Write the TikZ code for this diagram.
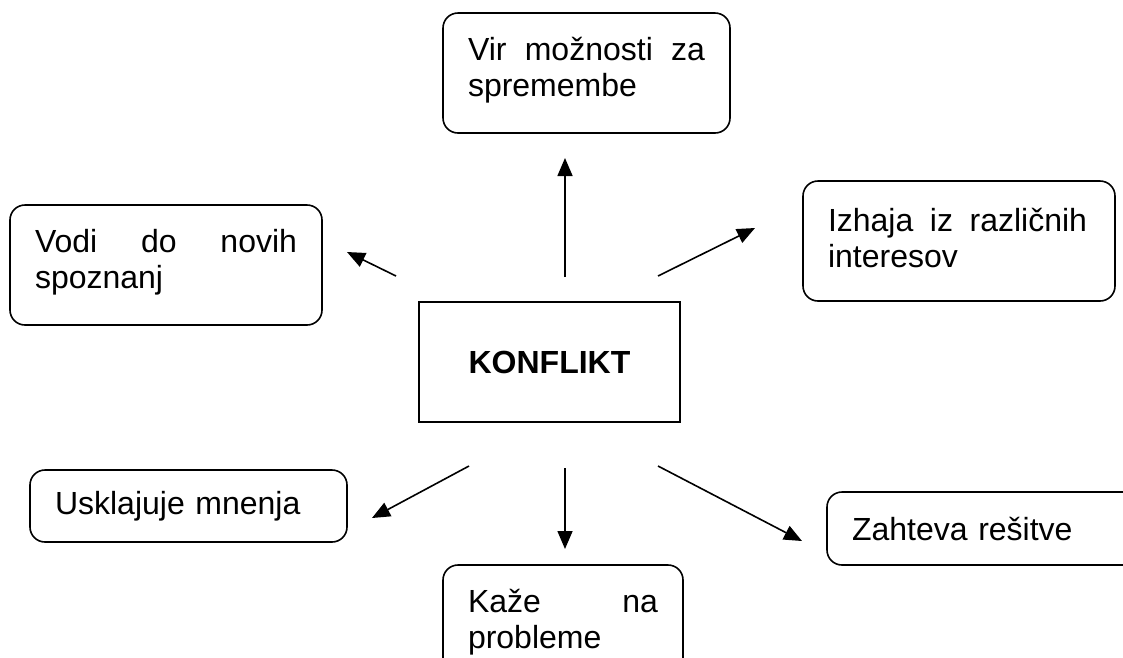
\documentclass[tikz,border=0pt]{standalone}
\usepackage{fontspec}
\setmainfont{Liberation Sans}
\usetikzlibrary{arrows.meta}
\tikzset{
  rbox/.style={draw=black, line width=1.6pt, rounded corners=15pt, inner xsep=25pt, inner ysep=0pt,
    align=left, font=\fontsize{32}{36}\selectfont, anchor=center},
  sbox/.style={draw=black, line width=1.6pt, inner sep=0pt, align=center,
    font=\fontsize{32}{36}\selectfont\bfseries},
  conn/.style={line width=1.6pt, -{Triangle[length=18pt,width=15pt]}},
}
\newcommand{\jline}[2]{\noindent\hbox to #1{#2}}
\begin{document}
\begin{tikzpicture}[x=1pt,y=-1pt]
\useasboundingbox (0,0) rectangle (1123,657);
\clip (0,0) rectangle (1123,657);
\node[rbox, minimum width=287pt, minimum height=120pt, text width=237pt] (vir) at (586.5,73) {\jline{237pt}{Vir\hfill možnosti\hfill za}\\spremembe\vspace{6pt}};
\node[rbox, minimum width=312pt, minimum height=120pt, text width=262pt] (izh) at (959,241) {\jline{259pt}{Izhaja\hfill iz\hfill različnih}\\interesov\vspace{6pt}};
\node[rbox, minimum width=312pt, minimum height=120pt, text width=262pt] (vodi) at (166,265) {\jline{262pt}{Vodi\hfill do\hfill novih}\\spoznanj\vspace{6pt}};
\node[sbox, minimum width=261pt, minimum height=120pt] (konf) at (549.5,362) {\raisebox{-6pt}{KONFLIKT}};
\node[rbox, minimum width=317pt, minimum height=72pt, text width=267pt] (usk) at (188.5,506) {Usklajuje mnenja};
\node[rbox, minimum width=330pt, minimum height=73pt, text width=280pt] (zah) at (992,528.5) {Zahteva rešitve};
\node[rbox, minimum width=240pt, minimum height=120pt, text width=190pt] (kaz) at (563,625) {\jline{190pt}{Kaže\hfill na}\\probleme\vspace{6pt}};

\coordinate (a1s) at (565,277); \coordinate (a1e) at (565,158);
\coordinate (a2s) at (658,276); \coordinate (a2e) at (755,228);
\coordinate (a3s) at (396,276); \coordinate (a3e) at (347,252);
\coordinate (a4s) at (469,466); \coordinate (a4e) at (372,518);
\coordinate (a5s) at (565,468); \coordinate (a5e) at (565,549);
\coordinate (a6s) at (658,466); \coordinate (a6e) at (802,541);
\draw[conn] (a1s) -- (a1e);
\draw[conn] (a2s) -- (a2e);
\draw[conn] (a3s) -- (a3e);
\draw[conn] (a4s) -- (a4e);
\draw[conn] (a5s) -- (a5e);
\draw[conn] (a6s) -- (a6e);
\end{tikzpicture}
\end{document}
